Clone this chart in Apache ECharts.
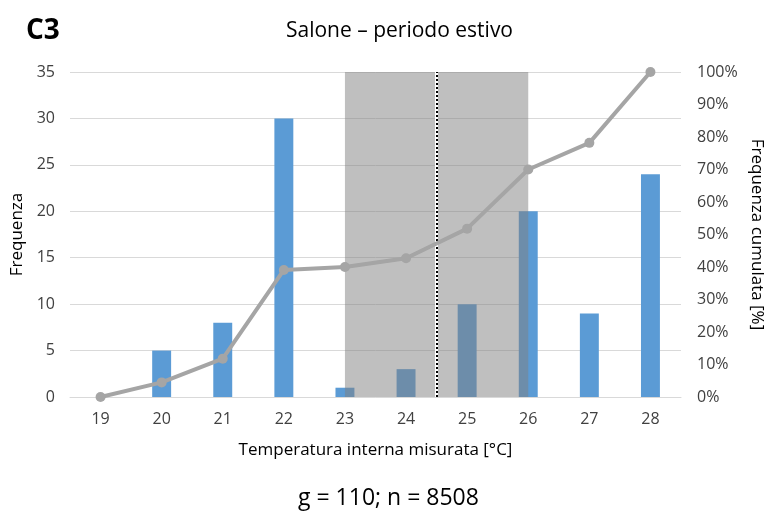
<!DOCTYPE html>
<html><head><meta charset="utf-8">
<script src="https://cdn.jsdelivr.net/npm/echarts@6/dist/echarts.min.js"></script>
<style>html,body{margin:0;padding:0;background:#fff}#c{width:767px;height:518px}</style>
</head><body><div id="c"></div>
<script>
const categories = ['19','20','21','22','23','24','25','26','27','28'];
const frequenza = [0,5,8,30,1,3,10,20,9,24];
const cumulata = [0,4.5,11.8,39.1,40,42.7,51.8,70,78.2,100];
const leftTicks = [0,5,10,15,20,25,30,35];
const rightTicks = [0,10,20,30,40,50,60,70,80,90,100];
const shadedRange = [23,26];
const medianLine = 24.5;

const font = 'Open Sans';
const chart = echarts.init(document.getElementById('c'));
chart.setOption({
  animation:false,
  textStyle:{fontFamily:font},
  title:[
    {text:'C3',left:21,top:12,textStyle:{fontFamily:font,fontSize:28,fontWeight:'bold',color:'#000'}},
    {text:'Salone – periodo estivo',left:281,top:16,textStyle:{fontFamily:font,fontSize:21,fontWeight:'normal',color:'#000'}},
    {text:'g = 110; n = 8508',left:293,top:482,textStyle:{fontFamily:font,fontSize:23,fontWeight:'normal',color:'#000'}}
  ],
  grid:{left:70,right:86,top:72,bottom:121,outerBoundsMode:'none',containLabel:false},
  xAxis:[
    {type:'category',data:categories,boundaryGap:true,
     axisLine:{lineStyle:{color:'#d9d9d9',width:1}},axisTick:{show:false},
     axisLabel:{color:'#404040',fontSize:16,margin:14,fontFamily:font},
     name:'Temperatura interna misurata [°C]',nameLocation:'middle',nameGap:45,
     nameTextStyle:{color:'#000',fontSize:17,fontFamily:font}},
    {type:'value',min:18.5,max:28.5,show:false}
  ],
  yAxis:[
    {type:'value',min:0,max:35,interval:5,
     axisLine:{show:false},axisTick:{show:false},
     splitLine:{lineStyle:{color:'#d9d9d9',width:1}},
     axisLabel:{color:'#404040',fontSize:16,margin:15,fontFamily:font},
     name:'Frequenza',nameLocation:'middle',nameGap:44,nameRotate:90,
     nameTextStyle:{color:'#000',fontSize:17,fontFamily:font}},
    {type:'value',min:0,max:100,interval:10,position:'right',
     axisLine:{show:false},axisTick:{show:false},splitLine:{show:false},
     axisLabel:{color:'#404040',fontSize:16,margin:16,formatter:'{value}%',fontFamily:font},
     name:'Frequenza cumulata [%]',nameLocation:'middle',nameGap:66,nameRotate:-90,
     nameTextStyle:{color:'#000',fontSize:17,fontFamily:font}}
  ],
  series:[
    {type:'bar',data:frequenza,barWidth:'31%',itemStyle:{color:'#5b9bd5'},z:2},
    {type:'line',xAxisIndex:1,yAxisIndex:0,data:[],z:3,silent:true,
     markArea:{silent:true,z:3,itemStyle:{color:'rgba(128,128,128,0.5)'},
       data:[[{xAxis:shadedRange[0]},{xAxis:shadedRange[1]}]]},
     markLine:{silent:true,z:3,symbol:'none',label:{show:false},
       data:[
         {xAxis:medianLine,lineStyle:{color:'#fff',type:'solid',width:3}},
         {xAxis:medianLine,lineStyle:{color:'#000',type:[2,2],width:2}}
       ]}},
    {type:'line',yAxisIndex:1,data:cumulata,z:4,
     lineStyle:{color:'#a5a5a5',width:4},itemStyle:{color:'#a5a5a5'},
     symbol:'circle',symbolSize:10}
  ]
});
</script></body></html>
